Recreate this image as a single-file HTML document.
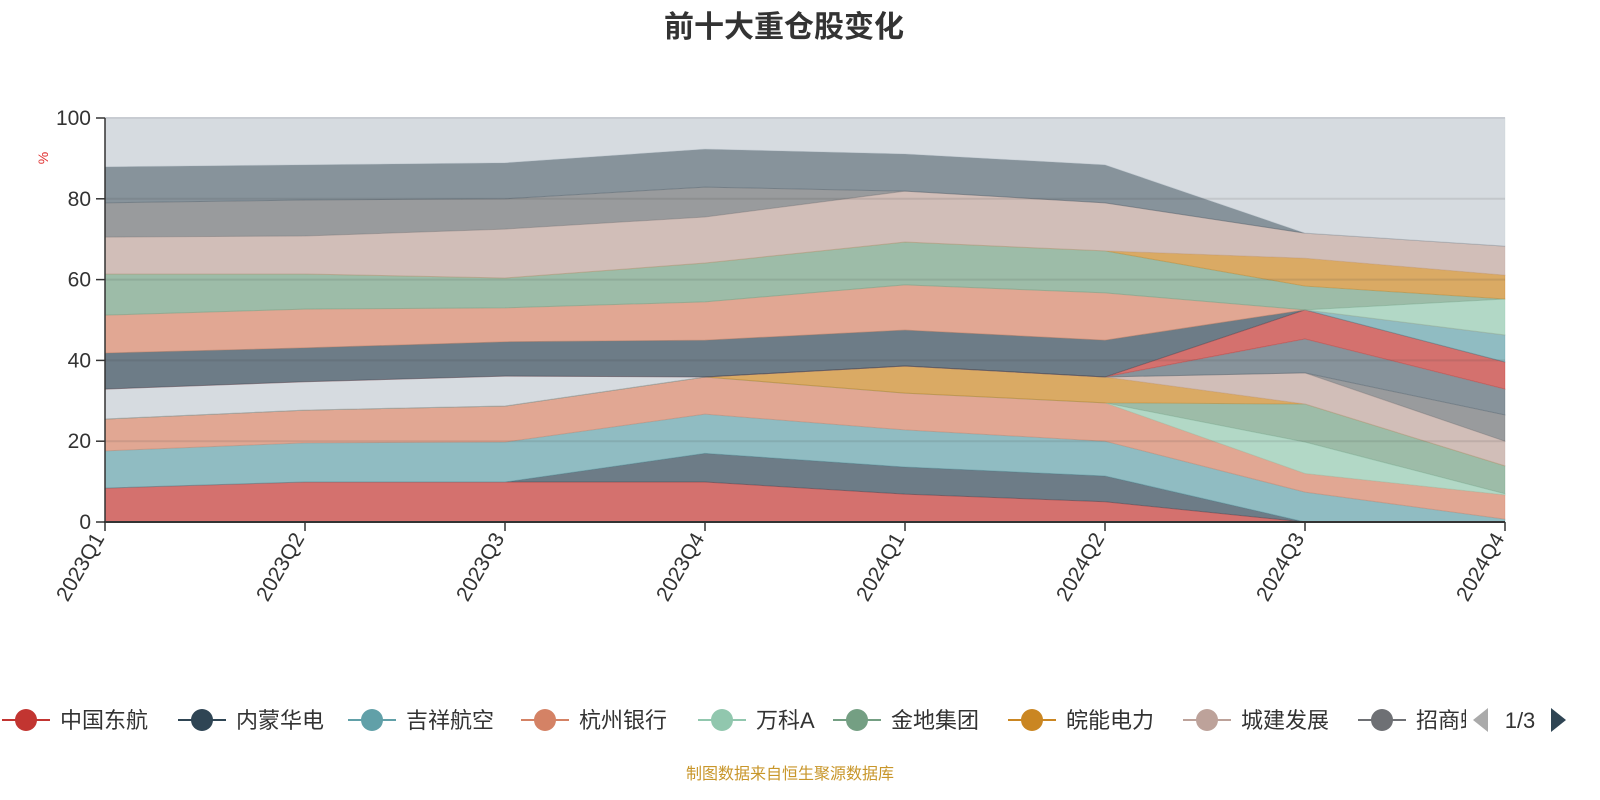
<!DOCTYPE html>
<html><head><meta charset="utf-8">
<style>
body{margin:0;background:#fff;}
svg{display:block;font-family:"Liberation Sans","Noto Sans CJK SC",sans-serif;}
</style></head>
<body>
<svg id="chart" width="1600" height="800" viewBox="0 0 1600 800" xmlns="http://www.w3.org/2000/svg">
<defs><clipPath id="legclip"><rect x="0" y="690" width="1466" height="60"/></clipPath></defs>
<text x="784" y="37" text-anchor="middle" font-size="30" font-weight="bold" fill="#333">前十大重仓股变化</text>
<g id="areas"></g>
<g id="grid"></g>
<g id="axes"></g>
<text x="48" y="158" font-size="14" fill="#e03030" text-anchor="middle" transform="rotate(-90 48 158)">%</text>
<g id="legend"></g>
<text x="790" y="779" text-anchor="middle" font-size="16" fill="#c8962a">制图数据来自恒生聚源数据库</text>
</svg>
<script>
const categories = ["2023Q1","2023Q2","2023Q3","2023Q4","2024Q1","2024Q2","2024Q3","2024Q4"];
const yTicks = [0,20,40,60,80,100];
const seriesNames = ["中国东航","内蒙华电","吉祥航空","杭州银行","万科A","金地集团","皖能电力","城建发展","招商蛇口","系列10","系列11","系列12","系列13","系列14","系列15","系列16","系列17","系列18","系列19","系列20","系列21","其他"];
const s0 = [8.4,9.9,9.9,9.9,6.9,5.0,0,0];
const s1 = [0,0,0,7.1,6.7,6.4,0,0];
const s2 = [9.2,9.7,9.9,9.7,9.2,8.6,7.4,0.7];
const s3 = [7.9,8.1,8.9,9.2,9.1,9.5,4.6,6.0];
const s4 = [0,0,0,0,0,0,7.8,0.3];
const s5 = [0,0,0,0,0,0,9.4,6.9];
const s6 = [0,0,0,0,6.7,6.4,0,0];
const s7 = [0,0,0,0,0,0,7.7,6.1];
const s8 = [0,0,0,0,0,0,0,6.5];
const s9 = [0,0,0,0,0,0,8.4,6.4];
const s10 = [7.4,7.0,7.4,0,0,0,0,0];
const s11 = [0,0,0,0,0,0,7.2,6.7];
const s12 = [8.9,8.4,8.5,9.1,8.9,9.1,0,0];
const s13 = [0,0,0,0,0,0,0,6.7];
const s14 = [9.4,9.6,8.4,9.5,11.2,11.7,0,0];
const s15 = [0,0,0,0,0,0,0,8.9];
const s16 = [10.2,8.7,7.4,9.6,10.6,10.4,5.9,0];
const s17 = [0,0,0,0,0,0,6.9,5.9];
const s18 = [9.1,9.4,12.1,11.4,12.6,11.9,6.2,7.2];
const s19 = [8.5,8.9,7.5,7.4,0,0,0,0];
const s20 = [8.9,8.7,8.9,9.4,9.2,9.4,0,0];
const s21 = [12.1,11.6,11.1,7.7,8.9,11.6,28.5,31.7];
const seriesValues = [s0,s1,s2,s3,s4,s5,s6,s7,s8,s9,s10,s11,s12,s13,s14,s15,s16,s17,s18,s19,s20,s21];
const palette = ['#c23531','#2f4554','#61a0a8','#d48265','#91c7ae','#749f83','#ca8622','#bda29a','#6e7074','#546570','#c4ccd3'];

const NS="http://www.w3.org/2000/svg";
const X0=105,X1=1505,Y0=522,Y1=118;
function xPos(i){return X0+(X1-X0)*i/(categories.length-1);}
function yPos(v){return Y0-(Y0-Y1)*Math.min(v,100)/100;}
function mk(tag,attrs,parent){const e=document.createElementNS(NS,tag);for(const k in attrs)e.setAttribute(k,attrs[k]);parent.appendChild(e);return e;}

const areas=document.getElementById('areas');
let base=categories.map(()=>0);
seriesValues.forEach((vals,si)=>{
  const top=vals.map((v,i)=>base[i]+v);
  let d="";
  top.forEach((v,i)=>{d+=(i?"L":"M")+xPos(i)+","+yPos(v);});
  for(let i=categories.length-1;i>=0;i--){d+="L"+xPos(i)+","+yPos(base[i]);}
  d+="Z";
  const col=palette[si%palette.length];
  const p=mk('path',{d:d,fill:col,'fill-opacity':0.7,stroke:col,'stroke-opacity':0.3,'stroke-width':1},areas);
  
  
  base=top;
});

const grid=document.getElementById('grid');
yTicks.forEach(t=>{
  if(t===0)return;
  const l=mk('line',{x1:X0,x2:X1,y1:yPos(t),y2:yPos(t),stroke:t===100?'#c8ccd2':'rgba(60,60,60,0.12)','stroke-width':2},grid);
  
  
});

const axes=document.getElementById('axes');
const ya=mk('line',{x1:X0,x2:X0,y1:Y1,y2:Y0,stroke:'#333','stroke-width':1.5},axes);


const xa=mk('line',{x1:X0-1,x2:X1,y1:Y0,y2:Y0,stroke:'#333','stroke-width':2},axes);


yTicks.forEach(t=>{
  const tk=mk('line',{x1:X0-9,x2:X0,y1:yPos(t),y2:yPos(t),stroke:'#333','stroke-width':1.5},axes);
  
  
  const tx=mk('text',{x:X0-14,y:yPos(t)+7,'text-anchor':'end','font-size':21,fill:'#333'},axes);
  
  
  tx.textContent=t;
});
categories.forEach((c,i)=>{
  const x=xPos(i);
  const tk=mk('line',{x1:x,x2:x,y1:Y0,y2:Y0+9,stroke:'#333','stroke-width':1.5},axes);
  
  
  const tx=mk('text',{x:x,y:Y0+16,'text-anchor':'end','font-size':21,fill:'#333',transform:'rotate(-60 '+x+' '+(Y0+16)+')'},axes);
  
  
  tx.textContent=c;
});

const legend=document.getElementById('legend');
const legItems=mk('g',{'clip-path':'url(#legclip)'},legend);


const legX=[2,178,348,521,698,833,1008,1183,1358];
const LY=720;
legX.forEach((lx,i)=>{
  const g=mk('g',{},legItems);
  
  
  const col=palette[i];
  mk('line',{x1:lx,x2:lx+48,y1:LY,y2:LY,stroke:col,'stroke-width':2},g);
  mk('circle',{cx:lx+24,cy:LY,r:11,fill:col},g);
  const t=mk('text',{x:lx+58,y:LY+8,'font-size':22,fill:'#333'},g);
  t.textContent=seriesNames[i];
});
const prev=mk('polygon',{points:'1488,708 1488,732 1473,720',fill:'#aaa'},legend);


const pg=mk('text',{x:1520,y:728,'text-anchor':'middle','font-size':22,fill:'#333'},legend);


pg.textContent='1/3';
const next=mk('polygon',{points:'1551,708 1551,732 1566,720',fill:'#2f4554'},legend);


</script>
</body></html>
